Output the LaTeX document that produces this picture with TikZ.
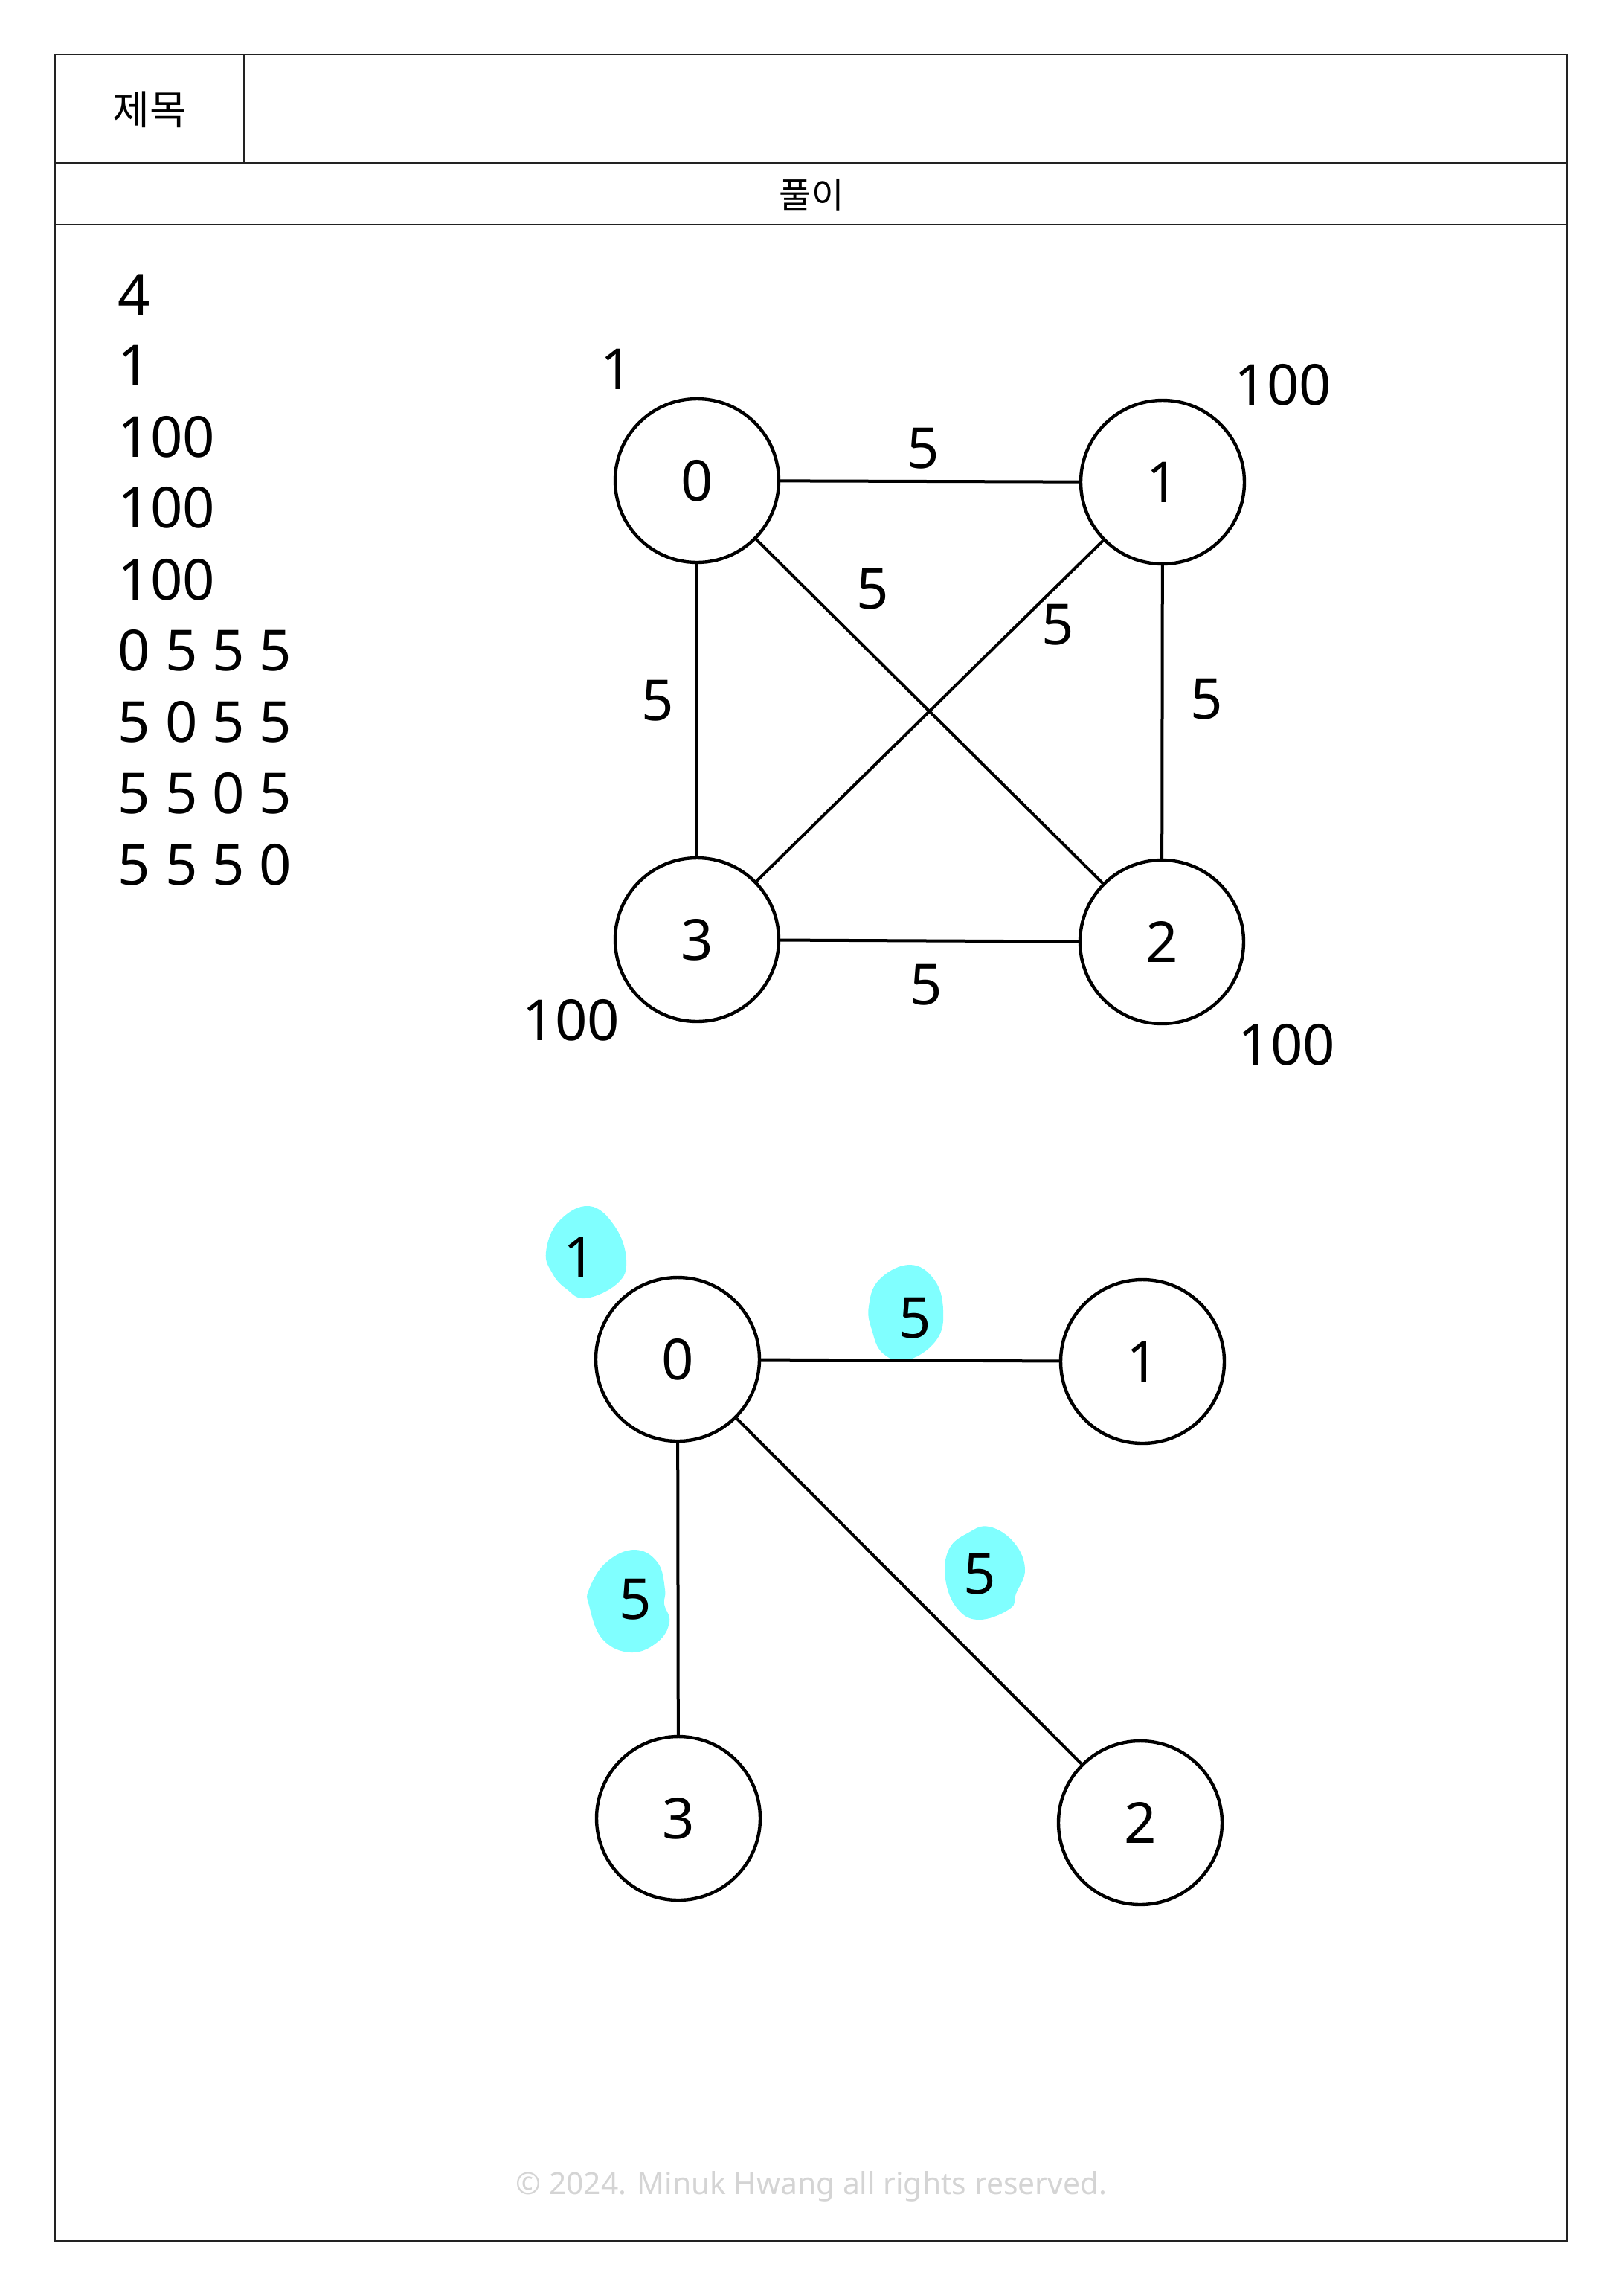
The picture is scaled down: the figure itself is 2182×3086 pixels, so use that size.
\documentclass[tikz,border=0pt]{standalone}
\usepackage{fontspec}
\setmainfont{Noto Sans}
\newfontfamily\krfont{Noto Sans CJK KR}
\definecolor{hl}{RGB}{128,255,255}
\definecolor{copyc}{RGB}{212,212,212}
\definecolor{framec}{RGB}{34,34,34}
\begin{document}
\begin{tikzpicture}[x=0.25pt,y=-0.25pt,
  vertex/.style={circle,draw=black,line width=1.1pt,minimum size=55pt,inner sep=0pt,font=\fontsize{19}{23}\selectfont},
  edge/.style={draw=black,line width=1pt},
  lbl/.style={inner sep=0pt,font=\fontsize{19}{23}\selectfont},
  listrow/.style={inner sep=0pt,anchor=west,font=\fontsize{19}{23}\selectfont},
  framel/.style={draw=framec,line width=0.65pt},
  blob/.style={fill=hl,draw=none}]
\useasboundingbox (0,0) rectangle (2182,3086);

% frame
\draw[framel] (74,73) rectangle (2107,3012);
\draw[framel] (74,219) -- (2107,219);
\draw[framel] (74,302) -- (2107,302);
\draw[framel] (328,73) -- (328,219);
\node[inner sep=0pt,font=\krfont\fontsize{13.5}{16}\selectfont] (title) at (201,147) {제목};
\node[inner sep=0pt,font=\krfont\fontsize{11.8}{14}\selectfont] (sol) at (1091,262) {풀이};

% input list
\node[listrow] (l1) at (158,396) {4};
\node[listrow] (l2) at (158,491) {1};
\node[listrow] (l3) at (158,587) {100};
\node[listrow] (l4) at (158,682) {100};
\node[listrow] (l5) at (158,779) {100};
\node[listrow] (l6) at (158,874) {0 5 5 5};
\node[listrow] (l7) at (158,970) {5 0 5 5};
\node[listrow] (l8) at (158,1066) {5 5 0 5};
\node[listrow] (l9) at (158,1162) {5 5 5 0};

% top graph
\node[vertex] (a0) at (937,646) {0};
\node[vertex] (a1) at (1563,648) {1};
\node[vertex] (a2) at (1562,1266) {2};
\node[vertex] (a3) at (937,1263) {3};
\draw[edge] (a0) -- (a1);
\draw[edge] (a0) -- (a3);
\draw[edge] (a1) -- (a2);
\draw[edge] (a3) -- (a2);
\draw[edge] (a0) -- (a2);
\draw[edge] (a1) -- (a3);
\node[lbl] (wa0) at (829,496) {1};
\node[lbl] (wa1) at (1725,517) {100};
\node[lbl] (wa3) at (768,1371) {100};
\node[lbl] (wa2) at (1730,1404) {100};
\node[lbl] (ea01) at (1241,603) {5};
\node[lbl] (ea02) at (1173,792) {5};
\node[lbl] (ea13) at (1422,840) {5};
\node[lbl] (ea03) at (884,942) {5};
\node[lbl] (ea12) at (1622,940) {5};
\node[lbl] (ea32) at (1245,1324) {5};

% highlights
\fill[blob] plot[smooth cycle,tension=0.7] coordinates {(792,1621) (827,1649) (842,1694) (830,1725) (787,1745) (761,1732) (743,1712) (734,1683) (751,1642)};
\fill[blob] plot[smooth cycle,tension=0.7] coordinates {(1223,1700) (1256,1720) (1268,1761) (1259,1801) (1220,1828) (1187,1819) (1172,1787) (1168,1756) (1182,1720)};
\fill[blob] plot[smooth cycle,tension=0.7] coordinates {(853,2083) (884,2100) (894,2136) (893,2156) (900,2180) (884,2207) (848,2221) (810,2203) (792,2158) (792,2136) (815,2100)};
\fill[blob] plot[smooth cycle,tension=0.7] coordinates {(1330,2052) (1363,2073) (1378,2109) (1366,2142) (1358,2162) (1317,2177) (1287,2162) (1271,2122) (1276,2082) (1302,2060)};

% bottom graph
\node[vertex] (b0) at (911,1827) {0};
\node[vertex] (b1) at (1536,1830) {1};
\node[vertex] (b2) at (1533,2450) {2};
\node[vertex] (b3) at (912,2444) {3};
\draw[edge] (b0) -- (b1);
\draw[edge] (b0) -- (b3);
\draw[edge] (b0) -- (b2);
\node[lbl] (wb0) at (779,1690) {1};
\node[lbl] (eb01) at (1230,1772) {5};
\node[lbl] (eb03) at (854,2150) {5};
\node[lbl] (eb02) at (1317,2116) {5};

% footer
\node[inner sep=0pt,anchor=base,text=copyc,font=\fontsize{10.2}{13}\selectfont] (copy) at (1091,2949) {© 2024. Minuk Hwang all rights reserved.};
\end{tikzpicture}
\end{document}
